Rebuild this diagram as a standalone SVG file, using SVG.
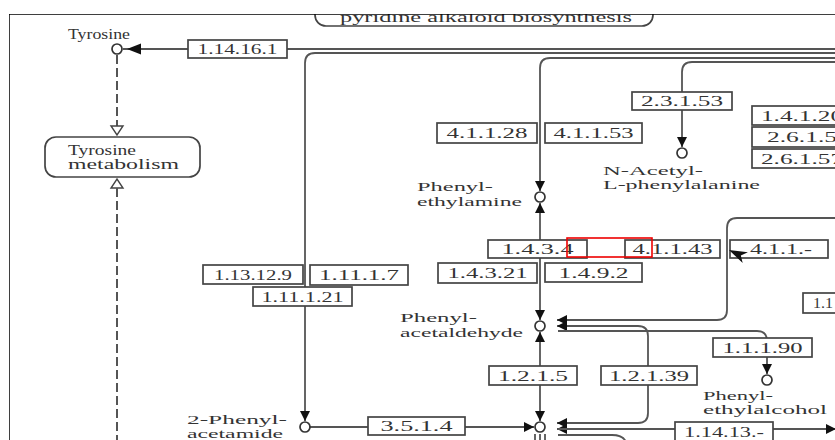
<svg xmlns="http://www.w3.org/2000/svg" width="835" height="440" viewBox="0 0 835 440">
<style>
.bg{fill:#fff}
.frame{fill:none;stroke:#000;stroke-width:1.5}
.enz rect{fill:#fff;stroke:#444;stroke-width:1.7}
.enz text,.lbl{font-family:"Liberation Serif","DejaVu Serif",serif;font-size:14px;fill:#333}
.cpd .lbl{font-size:13px}
.enz text{text-anchor:middle}
.cpd circle{fill:#fff;stroke:#333;stroke-width:1.7}
.map rect{fill:#fff;stroke:#444;stroke-width:1.7}
.ln{fill:none;stroke:#555;stroke-width:1.8}
.dash{fill:none;stroke:#555;stroke-width:2;stroke-dasharray:9,4}
.ah{fill:#111}
.hol{fill:#fff;stroke:#444;stroke-width:1.4}
.red{fill:none;stroke:#e00;stroke-width:1.6}
</style>
<defs>
<clipPath id="clip"><rect x="9" y="14" width="826" height="426"/></clipPath>
<marker id="arr" viewBox="0 0 10 10" refX="10" refY="5" markerWidth="10" markerHeight="10" markerUnits="userSpaceOnUse" orient="auto">
<path d="M0,0 L10,5 L0,10 z" fill="#111"/>
</marker>
</defs>
<rect class="bg" x="0" y="0" width="835" height="440"/>
<g clip-path="url(#clip)">
<g id="map-pyridine" class="map">
<rect x="315" y="-12" width="338" height="38" rx="11"/>
<text class="lbl" x="340" y="21.5" textLength="292" lengthAdjust="spacingAndGlyphs">pyridine alkaloid biosynthesis</text>
</g>
<g id="connectors">
<line class="ln" x1="123" y1="49" x2="188" y2="49"/>
<line class="ln" x1="287" y1="49" x2="835" y2="49"/>
<path class="ln" d="M835,53 H315 Q305,53 305,63 V421" marker-end="url(#arr)"/>
<path class="ln" d="M835,58 H550 Q540,58 540,68 V191" marker-end="url(#arr)"/>
<path class="ln" d="M835,62 H692 Q682,62 682,72 V147" marker-end="url(#arr)"/>
<path class="ln" d="M540,240 V203" marker-end="url(#arr)"/>
<path class="ln" d="M540,258 V320" marker-end="url(#arr)"/>
<path class="ln" d="M540,366 V332" marker-end="url(#arr)"/>
<path class="ln" d="M540,385 V421" marker-end="url(#arr)"/>
<path class="ln" d="M310,427 H368 M465,427 H534"/>
<path class="ln" d="M520,427 H534" marker-end="url(#arr)"/>
<path class="ln" d="M835,218 H737 Q727,218 727,228 V310 Q727,320 717,320 H557" marker-end="url(#arr)"/>
<path class="ln" d="M558,326 H638 Q648,326 648,336 V413 Q648,423 638,423 H557" marker-end="url(#arr)"/>
<path class="ln" d="M570,326 H557" marker-end="url(#arr)"/>
<path class="ln" d="M558,331 H757 Q767,331 767,341"/>
<path class="ln" d="M767,357 V374" marker-end="url(#arr)"/>
<path class="ln" d="M570,429 H557" marker-end="url(#arr)"/>
<path class="ln" d="M558,429 H675 M773,429 H826"/>
<path class="ln" d="M815,429 H836" marker-end="url(#arr)"/>
<path class="ln" d="M558,435 H612 Q625,435 627,445"/>
<path class="ln" d="M535,434 V441 M540,434 V441 M545,434 V441"/>
<polygon class="ah" points="127,49 141,43.5 141,54.5"/>
<line class="dash" x1="117" y1="55" x2="117" y2="126"/>
<polygon class="hol" points="111,126 123,126 117,135"/>
<polygon class="hol" points="111,188 123,188 117,179"/>
<line class="dash" x1="117" y1="188" x2="117" y2="441"/>
</g>
<path class="frame" d="M9,441 V14 H836"/>
<g id="map-tyrosine" class="map">
<rect x="45" y="137" width="155" height="40" rx="11"/>
<text class="lbl" x="68" y="155" textLength="68" lengthAdjust="spacingAndGlyphs">Tyrosine</text>
<text class="lbl" x="68" y="169" textLength="111" lengthAdjust="spacingAndGlyphs">metabolism</text>
</g>
<g id="cpd-tyrosine" class="cpd">
<circle cx="117" cy="49" r="5"/>
<text class="lbl" x="68" y="39" textLength="62" lengthAdjust="spacingAndGlyphs" style="font-size:14px">Tyrosine</text>
</g>
<g id="cpd-phenylethylamine" class="cpd">
<circle cx="540" cy="197" r="5"/>
<text class="lbl" x="417" y="191" textLength="76" lengthAdjust="spacingAndGlyphs">Phenyl-</text>
<text class="lbl" x="417" y="206" textLength="105" lengthAdjust="spacingAndGlyphs">ethylamine</text>
</g>
<g id="cpd-nacetyl" class="cpd">
<circle cx="682" cy="153" r="5"/>
<text class="lbl" x="603" y="174.5" textLength="100" lengthAdjust="spacingAndGlyphs">N-Acetyl-</text>
<text class="lbl" x="603" y="189" textLength="157" lengthAdjust="spacingAndGlyphs">L-phenylalanine</text>
</g>
<g id="cpd-phenylacetaldehyde" class="cpd">
<circle cx="540" cy="326" r="5"/>
<text class="lbl" x="400" y="322" textLength="77" lengthAdjust="spacingAndGlyphs">Phenyl-</text>
<text class="lbl" x="400" y="337" textLength="123" lengthAdjust="spacingAndGlyphs">acetaldehyde</text>
</g>
<g id="cpd-phenylethylalcohol" class="cpd">
<circle cx="767" cy="380" r="5"/>
<text class="lbl" x="703" y="399.5" textLength="70" lengthAdjust="spacingAndGlyphs">Phenyl-</text>
<text class="lbl" x="703" y="414" textLength="124" lengthAdjust="spacingAndGlyphs">ethylalcohol</text>
</g>
<g id="cpd-phenylacetamide" class="cpd">
<circle cx="305" cy="427" r="5"/>
<text class="lbl" x="187" y="424" textLength="100" lengthAdjust="spacingAndGlyphs" style="font-size:12px">2-Phenyl-</text>
<text class="lbl" x="187" y="437.5" textLength="96" lengthAdjust="spacingAndGlyphs" style="font-size:12px">acetamide</text>
</g>
<g id="cpd-phenylacetate" class="cpd">
<circle cx="540" cy="427" r="5"/>
</g>
<g id="ec-1.14.16.1" class="enz"><rect x="188" y="40" width="99" height="18"/><text x="237.5" y="54" textLength="80" lengthAdjust="spacingAndGlyphs">1.14.16.1</text></g>
<g id="ec-4.1.1.28" class="enz"><rect x="437" y="123" width="100" height="20"/><text x="487" y="138" textLength="81" lengthAdjust="spacingAndGlyphs">4.1.1.28</text></g>
<g id="ec-4.1.1.53" class="enz"><rect x="545" y="123" width="97" height="20"/><text x="593.5" y="138" textLength="80" lengthAdjust="spacingAndGlyphs">4.1.1.53</text></g>
<g id="ec-2.3.1.53" class="enz"><rect x="632" y="92" width="100" height="18"/><text x="682" y="106" textLength="82" lengthAdjust="spacingAndGlyphs">2.3.1.53</text></g>
<g id="ec-1.4.1.20" class="enz"><rect x="752" y="106" width="100" height="19"/><text x="802" y="121" textLength="82" lengthAdjust="spacingAndGlyphs">1.4.1.20</text></g>
<g id="ec-2.6.1.5" class="enz"><rect x="752" y="127" width="100" height="20"/><text x="802" y="142" textLength="70" lengthAdjust="spacingAndGlyphs">2.6.1.5</text></g>
<g id="ec-2.6.1.57" class="enz"><rect x="752" y="149" width="100" height="19"/><text x="802" y="164" textLength="82" lengthAdjust="spacingAndGlyphs">2.6.1.57</text></g>
<g id="ec-1.4.3.4" class="enz"><rect x="488" y="240" width="99" height="18"/><text x="537.5" y="254" textLength="72" lengthAdjust="spacingAndGlyphs">1.4.3.4</text></g>
<g id="ec-4.1.1.43" class="enz"><rect x="625" y="240" width="95" height="18"/><text x="672.5" y="254" textLength="80" lengthAdjust="spacingAndGlyphs">4.1.1.43</text></g>
<g id="ec-4.1.1.-" class="enz"><rect x="730" y="240" width="98" height="18"/><text x="781" y="254" textLength="62" lengthAdjust="spacingAndGlyphs">4.1.1.-</text></g>
<g id="ec-1.13.12.9" class="enz"><rect x="203" y="265" width="100" height="19"/><text x="253" y="280" textLength="78" lengthAdjust="spacingAndGlyphs">1.13.12.9</text></g>
<g id="ec-1.11.1.7" class="enz"><rect x="310" y="265" width="98" height="20"/><text x="359" y="280" textLength="80" lengthAdjust="spacingAndGlyphs">1.11.1.7</text></g>
<g id="ec-1.11.1.21" class="enz"><rect x="253" y="287" width="99" height="19"/><text x="302.5" y="302" textLength="82" lengthAdjust="spacingAndGlyphs">1.11.1.21</text></g>
<g id="ec-1.4.3.21" class="enz"><rect x="438" y="263" width="99" height="20"/><text x="487.5" y="278" textLength="80" lengthAdjust="spacingAndGlyphs">1.4.3.21</text></g>
<g id="ec-1.4.9.2" class="enz"><rect x="545" y="263" width="97" height="19"/><text x="593.5" y="278" textLength="70" lengthAdjust="spacingAndGlyphs">1.4.9.2</text></g>
<g id="ec-1.1" class="enz"><rect x="803" y="293" width="60" height="20"/><text x="823" y="308" textLength="20" lengthAdjust="spacingAndGlyphs">1.1</text></g>
<g id="ec-1.1.1.90" class="enz"><rect x="713" y="338" width="99" height="19"/><text x="762.5" y="353" textLength="80" lengthAdjust="spacingAndGlyphs">1.1.1.90</text></g>
<g id="ec-1.2.1.5" class="enz"><rect x="489" y="366" width="88" height="19"/><text x="533" y="381" textLength="70" lengthAdjust="spacingAndGlyphs">1.2.1.5</text></g>
<g id="ec-1.2.1.39" class="enz"><rect x="601" y="366" width="96" height="19"/><text x="649" y="381" textLength="80" lengthAdjust="spacingAndGlyphs">1.2.1.39</text></g>
<g id="ec-3.5.1.4" class="enz"><rect x="368" y="417" width="97" height="18"/><text x="416.5" y="431" textLength="72" lengthAdjust="spacingAndGlyphs">3.5.1.4</text></g>
<g id="ec-1.14.13.-" class="enz"><rect x="675" y="422" width="98" height="20"/><text x="724" y="437" textLength="80" lengthAdjust="spacingAndGlyphs">1.14.13.-</text></g>
<polygon class="ah" points="729,250 747.9,252.3 740.8,255.6 742.7,263.1"/>
<rect class="red" x="567" y="238" width="85" height="19"/>
</g>
</svg>
